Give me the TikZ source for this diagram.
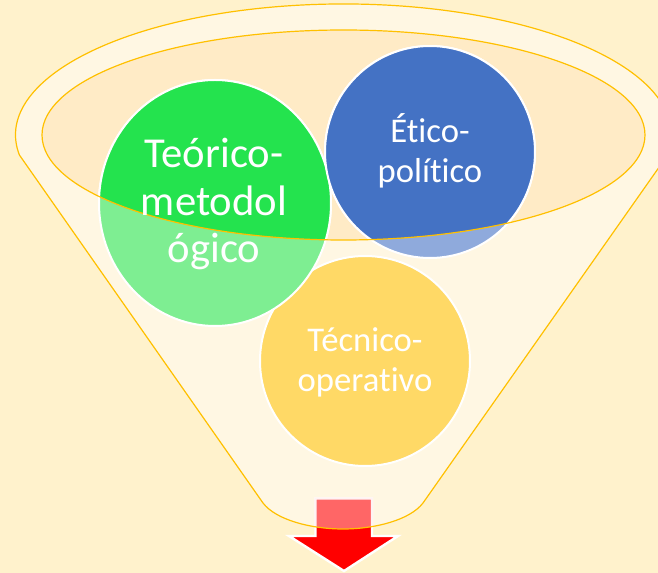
\documentclass[tikz,border=0pt]{standalone}
\usepackage{fontspec}
\setmainfont[Ligatures=NoCommon]{Carlito}
\definecolor{bgc}{HTML}{FFF2CC}
\definecolor{funnelc}{HTML}{FFF7E3}
\definecolor{innerc}{HTML}{FFEBC6}
\definecolor{linec}{HTML}{FFC000}
\definecolor{greenc}{HTML}{24E34E}
\definecolor{greenl}{HTML}{7EEE92}
\definecolor{bluec}{HTML}{4472C4}
\definecolor{bluel}{HTML}{8FAADC}
\definecolor{yellowc}{HTML}{FFD966}
\definecolor{redc}{HTML}{FF0000}
\definecolor{redl}{HTML}{FF6666}
\def\funnelpath{(19.4,155) arc[start angle=171.2,end angle=368.8,x radius=328,y radius=131] -- (423,503) .. controls (410,520) and (375,529) .. (343,529) .. controls (311,529) and (276,520) .. (263,503) -- cycle}
\def\innerpath{(343.5,135) ellipse[x radius=301.5,y radius=105]}
\def\greenpath{(215,203) ellipse[x radius=116,y radius=123]}
\def\bluepath{(430,152) ellipse[x radius=105,y radius=106]}
\def\arrowpath{(315.5,498.5) -- (372,498.5) -- (372,536) -- (398,536) -- (344,571) -- (289,536) -- (315.5,536) -- cycle}
\tikzset{
  circletext/.style={text=white,align=center,inner sep=0pt},
  edge/.style={draw=linec,line width=0.9pt},
  ringline/.style={draw=white,line width=1.5pt}
}
\begin{document}
\begin{tikzpicture}[x=0.75pt,y=-0.75pt]
\useasboundingbox (0,0) rectangle (658,573);
\clip (0,0) rectangle (658,573);
\fill[bgc] (0,0) rectangle (658,573);
\fill[funnelc] \funnelpath;
\fill[innerc] \innerpath;
% circles, seen through the funnel front
\path[fill=yellowc,ringline] (365,361) ellipse[x radius=105,y radius=105];
\path[fill=greenl,ringline] \greenpath;
\path[fill=bluel,ringline] \bluepath;
% arrow
\path[fill=redc,draw=white,line width=1.8pt,miter limit=10] \arrowpath;
\begin{scope}
  \clip \funnelpath;
  \path[fill=redl,draw=white!92!redl,line width=1.8pt] \arrowpath;
\end{scope}
% circles seen through the funnel mouth
\begin{scope}
  \clip \innerpath;
  \path[fill=greenc,ringline] \greenpath;
  \path[fill=bluec,ringline] \bluepath;
\end{scope}
\path[edge] \innerpath;
\path[edge] \funnelpath;
\node[circletext,font=\fontsize{32}{35.5}\selectfont] (teorico) at (214,204) {Teórico-\\metodol\\ógico};
\node[circletext,font=\fontsize{26}{30}\selectfont] (etico) at (430,151) {Ético-\\político};
\node[circletext,font=\fontsize{26}{30}\selectfont] (tecnico) at (365,362) {Técnico-\\operativo};
\end{tikzpicture}
\end{document}
